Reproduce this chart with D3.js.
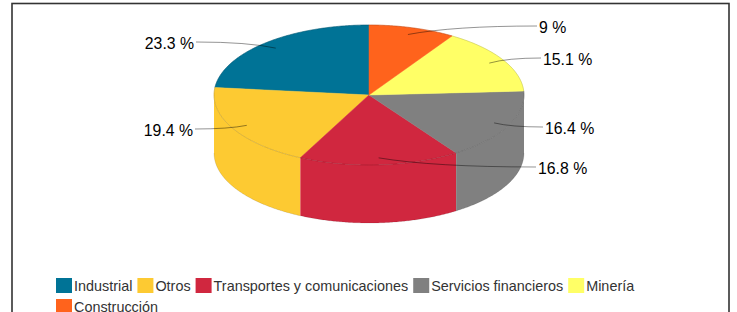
<!DOCTYPE html>
<html><head><meta charset="utf-8">
<script src="https://cdn.jsdelivr.net/npm/d3@7"></script>
<style>html,body{margin:0;padding:0;background:#fff;}svg{display:block;}</style>
</head><body>
<svg id="c" width="737" height="312"></svg>
<script>
// ---- data ----
const categories = ["Industrial", "Otros", "Transportes y comunicaciones", "Servicios financieros", "Minería", "Construcción"];
const values = [23.3, 19.4, 16.8, 16.4, 15.1, 9];
const valueLabels = ["23.3 %", "19.4 %", "16.8 %", "16.4 %", "15.1 %", "9 %"];
const colors = ["#007396", "#fdca32", "#d0273f", "#808080", "#ffff66", "#ff631c"];

// ---- layout ----
const W = 737, H = 312;
const cx = 369, cy = 95, rx = 155, ry = 70, depth = 58;
// label placement (layout only)
const labelLayout = [
  {x: 194, y: 43, side: "left"},
  {x: 193, y: 130, side: "left"},
  {x: 538, y: 168, side: "right"},
  {x: 545, y: 128, side: "right"},
  {x: 543, y: 59, side: "right"},
  {x: 539, y: 27, side: "right"}
];

const svg = d3.select("#c");
svg.append("rect").attr("x",0).attr("y",0).attr("width",W).attr("height",H).attr("fill","#fff");
// frame
svg.append("rect").attr("x",12).attr("y",3.5).attr("width",717).attr("height",330)
  .attr("fill","none").attr("stroke","#333").attr("stroke-width",1.6);

const pie = d3.pie().sort(null).value(d => d).startAngle(0).endAngle(-2*Math.PI);
const arcs = pie(values).map((a,i) => ({
  i,
  t0: Math.PI/2 - a.startAngle,
  t1: Math.PI/2 - a.endAngle
}));

const px = t => cx + rx*Math.cos(t);
const py = (t, dz=0) => cy - ry*Math.sin(t) + dz;
const line = d3.line();
function arcPts(a, b, dz=0) {
  const n = Math.max(2, Math.ceil(Math.abs(b-a)/0.01));
  return d3.range(n+1).map(k => { const t = a + (b-a)*k/n; return [px(t), py(t,dz)]; });
}

// side walls (front half: theta in [pi, 2pi])
const gSide = svg.append("g");
arcs.forEach(a => {
  const lo = Math.max(a.t0, Math.PI), hi = Math.min(a.t1, 2*Math.PI);
  if (hi > lo) {
    const pts = arcPts(lo, hi).concat(arcPts(hi, lo, depth));
    gSide.append("path").attr("d", line(pts) + "Z").attr("fill", colors[a.i]);
  }
});
gSide.append("path").attr("d", line(arcPts(Math.PI, 2*Math.PI, depth)))
  .attr("fill","none").attr("stroke","rgba(0,0,0,0.10)").attr("stroke-width",1);

// top face
const gTop = svg.append("g");
arcs.forEach(a => {
  const pts = [[cx, cy]].concat(arcPts(a.t0, a.t1));
  gTop.append("path").attr("d", line(pts) + "Z").attr("fill", colors[a.i])
    .attr("stroke", colors[a.i]).attr("stroke-width", 0.5);
});
gTop.append("path").attr("d", line(arcPts(0, 2*Math.PI)) + "Z")
  .attr("fill","none").attr("stroke","rgba(0,0,0,0.14)").attr("stroke-width",1);

// labels + leader lines
const gLab = svg.append("g");
arcs.forEach(a => {
  const tm = (a.t0 + a.t1)/2;
  const ax = cx + 0.9*rx*Math.cos(tm), ay = cy - 0.9*ry*Math.sin(tm);
  const L = labelLayout[a.i];
  const sx = L.side === "left" ? L.x + 2 : L.x - 2;
  const sy = L.y - 1;
  const dx = ax - sx;
  const p = d3.path();
  p.moveTo(sx, sy);
  p.quadraticCurveTo(ax - 0.35*dx, sy, ax, ay);
  gLab.append("path").attr("d", p.toString()).attr("fill","none")
    .attr("stroke","rgba(0,0,0,0.42)").attr("stroke-width",1);
  gLab.append("text").attr("x", L.x).attr("y", L.y)
    .attr("dy","0.36em")
    .attr("text-anchor", L.side === "left" ? "end" : "start")
    .attr("font-family","'Liberation Sans', Arial, sans-serif")
    .attr("font-size", 15.8).attr("fill","#000")
    .text(valueLabels[a.i]);
});

// legend
const gLeg = svg.append("g").attr("font-family","'Liberation Sans', Arial, sans-serif").attr("font-size",14.4);
let lx = 56, ly = 286;
const rowH = 21, maxX = 715;
categories.forEach((c, i) => {
  const g = gLeg.append("g");
  const t = g.append("text").attr("fill","#333").attr("dy","0.36em").text(c);
  const tw = t.node().getComputedTextLength();
  const itemW = 16 + 2 + tw;
  if (lx + itemW > maxX) { lx = 56; ly += rowH; }
  g.append("rect").attr("x", lx).attr("y", ly - 8).attr("width", 16).attr("height", 15).attr("fill", colors[i]);
  t.attr("x", lx + 18).attr("y", ly);
  lx += itemW + 5;
});
</script>
</body></html>
